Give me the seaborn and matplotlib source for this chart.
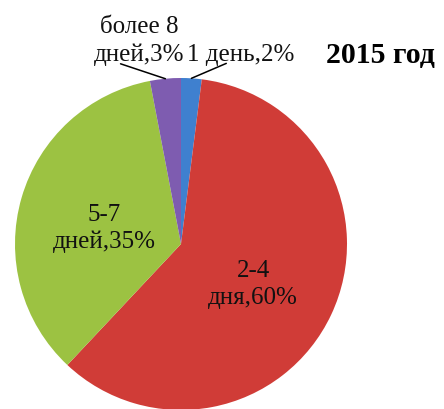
import numpy as np
import matplotlib
matplotlib.use("Agg")
import matplotlib.pyplot as plt
import seaborn as sns

categories = ["1 день", "2-4\nдня", "5-7\nдней", "более 8\nдней"]
values = [2, 60, 35, 3]
title = "2015 год"
colors = ["#3f80cf", "#d03c37", "#9cc242", "#7e5cb0"]

sns.set_theme(style="white")
plt.rcParams["font.family"] = ["Liberation Serif", "DejaVu Serif"]

W, H = 444, 409
fig = plt.figure(figsize=(W / 100, H / 100), dpi=100)
cx, cy, r = 181, 244, 166
ax = fig.add_axes([(cx - r) / W, (H - cy - r) / H, 2 * r / W, 2 * r / H])

wedges, _ = ax.pie(values, colors=colors, startangle=90, counterclock=False,
                   radius=1, wedgeprops=dict(linewidth=0))
ax.set_xlim(-1, 1)
ax.set_ylim(-1, 1)
ax.set_aspect("equal")
ax.axis("off")

fs = 18
total = sum(values)
for w, cat, v in zip(wedges, categories, values):
    mid = np.deg2rad((w.theta1 + w.theta2) / 2)
    pct = f"{round(100 * v / total)}%"
    label = f"{cat},{pct}"
    if v >= 10:
        d = 0.48
        ax.text(d * np.cos(mid), d * np.sin(mid) - 0.04, label, ha="center",
                va="center", fontsize=fs, color="#111111", linespacing=1.27)
    else:
        ex, ey = np.cos(mid), np.sin(mid)
        if ex < 0:
            lx, tx = ex - 0.27, ex - 0.16
        else:
            lx, tx = ex + 0.21, ex + 0.295
        ly = ey + 0.09
        ax.plot([ex, lx], [ey, ly], color="black", lw=1.1, clip_on=False)
        ax.text(tx, ly + 0.015, label, ha="center", va="baseline",
                fontsize=fs, color="#111111", linespacing=1.35)

fig.text(380 / W, 1 - 55 / H, title, ha="center", va="center",
         fontsize=21.5, fontweight="bold", color="black")

fig.savefig("out.png", dpi=100)
